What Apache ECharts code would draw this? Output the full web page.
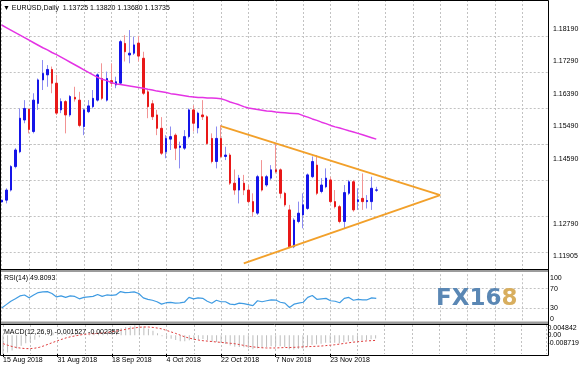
<!DOCTYPE html>
<html><head><meta charset="utf-8">
<script src="https://cdn.jsdelivr.net/npm/echarts/dist/echarts.min.js"></script>
<style>html,body{margin:0;padding:0;background:#fff}#c{width:582px;height:371px}</style>
</head><body><div id="c"></div>
<script>
// ---- data ----
const tickBars = [0, 12, 24, 36, 48, 60, 72];
const tickLabels = ['15 Aug 2018', '31 Aug 2018', '18 Sep 2018', '4 Oct 2018', '22 Oct 2018', '7 Nov 2018', '23 Nov 2018'];

const open = [1.1340,1.1345,1.1373,1.1438,1.1479,1.1567,1.1597,1.1535,1.1613,1.1678,
1.1692,1.1707,1.1669,1.1595,1.1618,1.1581,1.1630,1.1622,1.1549,1.1590,
1.1604,1.1622,1.1682,1.1622,1.1676,1.1664,1.1669,1.1779,1.1747,1.1752,
1.1780,1.1738,1.1645,1.1612,1.1581,1.1544,1.1479,1.1514,1.1525,1.1491,
1.1489,1.1521,1.1595,1.1545,1.1581,1.1576,1.1516,1.1452,1.1516,1.1466,
1.1470,1.1392,1.1373,1.1392,1.1373,1.1341,1.1309,1.1410,1.1387,1.1406,
1.1429,1.1429,1.1364,1.1318,1.1216,1.1286,1.1304,1.1322,1.1410,1.1442,
1.1369,1.1382,1.1401,1.1341,1.1327,1.1286,1.1364,1.1396,1.1341,1.1350,
1.1341,1.1341,1.13725];
const high = [1.1350,1.1378,1.1442,1.1489,1.1599,1.1622,1.1599,1.1641,1.1682,1.1733,
1.1719,1.1715,1.1692,1.1627,1.1622,1.1636,1.1659,1.1645,1.1599,1.1622,
1.1650,1.1696,1.1724,1.1701,1.1724,1.1687,1.1789,1.1802,1.1816,1.1798,
1.1800,1.1756,1.1650,1.1622,1.1595,1.1575,1.1525,1.1549,1.1530,1.1507,
1.1539,1.1599,1.1608,1.1590,1.1622,1.1580,1.1530,1.1549,1.1553,1.1493,
1.1475,1.1430,1.1415,1.1415,1.1387,1.1364,1.1415,1.1456,1.1415,1.1442,
1.1502,1.1433,1.1368,1.1332,1.1295,1.1341,1.1364,1.1419,1.1466,1.1470,
1.1406,1.1433,1.1410,1.1373,1.1332,1.1387,1.1401,1.1401,1.1378,1.1419,
1.1359,1.1410,1.13820];
const low = [1.1299,1.1336,1.1369,1.1433,1.1475,1.1558,1.1530,1.1530,1.1595,1.1650,
1.1659,1.1641,1.1581,1.1586,1.1530,1.1576,1.1618,1.1547,1.1525,1.1586,
1.1599,1.1618,1.1622,1.1618,1.1659,1.1655,1.1664,1.1729,1.1724,1.1747,
1.1729,1.1636,1.1572,1.1567,1.1525,1.1470,1.1461,1.1484,1.1456,1.1433,
1.1484,1.1516,1.1535,1.1530,1.1567,1.1498,1.1447,1.1433,1.1461,1.1456,
1.1387,1.1360,1.1336,1.1359,1.1336,1.1299,1.1304,1.1369,1.1382,1.1401,
1.1419,1.1350,1.1327,1.1212,1.1212,1.1281,1.1267,1.1318,1.1406,1.1359,
1.1364,1.1378,1.1336,1.1322,1.1281,1.1267,1.1359,1.1313,1.1318,1.1318,
1.1322,1.1318,1.13680];
const close = [1.1345,1.1373,1.1438,1.1484,1.1572,1.1599,1.1541,1.1622,1.1678,1.1696,
1.1707,1.1669,1.1586,1.1618,1.1581,1.1632,1.1625,1.1552,1.1595,1.1606,
1.1627,1.1692,1.1627,1.1682,1.1669,1.1673,1.1784,1.1756,1.1752,1.1775,
1.1744,1.1641,1.1604,1.1576,1.1544,1.1475,1.1516,1.1521,1.1489,1.1495,
1.1521,1.1595,1.1558,1.1586,1.1576,1.1502,1.1452,1.1516,1.1466,1.1470,
1.1392,1.1373,1.1406,1.1373,1.1341,1.1313,1.1410,1.1373,1.1410,1.1429,
1.1424,1.1364,1.1332,1.1216,1.1290,1.1309,1.1332,1.1415,1.1452,1.1364,
1.1387,1.1406,1.1341,1.1327,1.1286,1.1366,1.1396,1.1318,1.1346,1.1341,
1.1344,1.1378,1.13735];
const ma = [1.1830,1.1823,1.1816,1.1809,1.1802,1.1795,1.1788,1.1781,1.1774,1.1767,
1.1761,1.1754,1.1748,1.1741,1.1734,1.1727,1.1720,1.1713,1.1706,1.1699,
1.1692,1.1685,1.1680,1.1676,1.1671,1.1667,1.1665,1.1663,1.1661,1.1659,
1.1657,1.1655,1.1652,1.1650,1.1647,1.1645,1.1643,1.1640,1.1638,1.1636,
1.1634,1.1632,1.1631,1.1629,1.1629,1.1628,1.1628,1.1627,1.1626,1.1622,
1.1617,1.1613,1.1609,1.1604,1.1600,1.1598,1.1596,1.1594,1.1592,1.1591,
1.1589,1.1588,1.1587,1.1586,1.1585,1.1584,1.1579,1.1575,1.1570,1.1566,
1.1561,1.1557,1.1552,1.1548,1.1545,1.1541,1.1537,1.1534,1.1530,1.1526,
1.1522,1.1518,1.1514];
const rsi = [30,37,44,49,55,57,51,57,62,63.5,
64,60,53,55,52,55,54,49,52,53,
54,58,54,57,56,57,64,62,62.5,63.5,
60,51,48,46,43,38,41,41.5,40,40.5,
42,52,49,51,50,44,40,46,43,43,
38,37,40,39,37,35,45,43,45,47,
46.5,42,40,31,38,40,42,52,56,48,
49,50,45,44,41,50,52,46,48,47,
47,51,49.81];
const macd = [-0.0087,-0.0080,-0.0071,-0.0061,-0.0049,-0.0037,-0.0030,-0.0020,-0.0009,0.0001,
0.0009,0.0012,0.0010,0.0010,0.0008,0.0009,0.0009,0.0005,0.0004,0.0005,
0.0007,0.0013,0.0015,0.0019,0.0021,0.0022,0.0033,0.0039,0.0043,0.0047,
0.0048,0.0041,0.0031,0.0021,0.0010,-0.0004,-0.0011,-0.0016,-0.0022,-0.0027,
-0.0028,-0.0023,-0.0022,-0.0019,-0.0017,-0.0023,-0.0030,-0.0031,-0.0036,-0.0040,
-0.0047,-0.0053,-0.0054,-0.0056,-0.0060,-0.0065,-0.0060,-0.0058,-0.0055,-0.0051,
-0.0049,-0.0051,-0.0054,-0.0065,-0.0066,-0.0064,-0.0061,-0.0053,-0.0044,-0.0042,
-0.0039,-0.0035,-0.0035,-0.0035,-0.0037,-0.0032,-0.0027,-0.0028,-0.0026,-0.0024,
-0.0022,-0.0018,-0.001527];
const signal = [-0.0039,-0.0046,-0.0052,-0.0057,-0.0060,-0.0062,-0.0062,-0.0060,-0.0056,-0.0049,
-0.0041,-0.0033,-0.0025,-0.0018,-0.0011,-0.0006,-0.0002,0.0002,0.0005,0.0007,
0.0008,0.0009,0.0011,0.0014,0.0017,0.0020,0.0024,0.0028,0.0032,0.0035,
0.0038,0.0039,0.0039,0.0037,0.0034,0.0030,0.0023,0.0016,0.0009,0.0001,
-0.0007,-0.0013,-0.0018,-0.0022,-0.0025,-0.0027,-0.0029,-0.0031,-0.0033,-0.0035,
-0.0037,-0.0039,-0.0043,-0.0047,-0.0051,-0.0054,-0.0056,-0.0058,-0.0059,-0.0059,
-0.0059,-0.0058,-0.0057,-0.0057,-0.0056,-0.0055,-0.0054,-0.0053,-0.0052,-0.0051,
-0.0050,-0.0048,-0.0046,-0.0044,-0.0041,-0.0038,-0.0035,-0.0032,-0.0030,-0.0028,
-0.0026,-0.0025,-0.002352];

const priceTicks = [1.18190, 1.17290, 1.16390, 1.15490, 1.14590, 1.12790, 1.11890];
const priceTickLabels = ['1.18190', '1.17290', '1.16390', '1.15490', '1.14590', '1.12790', '1.11905'];
const gridPrices = [1.18190, 1.17290, 1.16390, 1.15490, 1.14590, 1.13690, 1.12790, 1.11890];
const lastPrice = 1.13735;
const rsiTicks = [0, 30, 70, 100];
const rsiLevels = [30, 70];
const macdTicks = [-0.008719, 0, 0.004842];
const macdTickLabels = ['-0.008719', '0.00', '0.004842'];
const triUpper = [[48, 1.1550], [96, 1.1359]];
const triLower = [[53, 1.1170], [96, 1.1359]];
const headerText = '\u25BC EURUSD,Daily  1.13725 1.13820 1.13680 1.13735';
const rsiText = 'RSI(14) 49.8093';
const macdText = 'MACD(12,26,9) -0.001527 -0.002352';

// ---- chart ----
const FONT = 'Liberation Sans, Arial, sans-serif';
const X_MAX = 119.6;
const idx = open.map((_, i) => i);
const candleData = idx.map(i => [i, open[i], close[i], low[i], high[i]]);
const bodyData = idx.map(i => [i, open[i], close[i], Math.min(open[i], close[i]), Math.max(open[i], close[i])]);
const gridLine = { color: '#c2c2c2', type: [2, 2], width: 1 };

function pick(v, ticks, labels) {
  let best = 0, d = Infinity;
  ticks.forEach((t, k) => { const e = Math.abs(t - v); if (e < d) { d = e; best = k; } });
  return labels[best];
}

function xBase(gi) {
  return {
    type: 'value', gridIndex: gi, min: 0, max: X_MAX, interval: 6,
    axisLine: { show: false }, axisTick: { show: false }, axisLabel: { show: false },
    splitLine: { show: true, lineStyle: gridLine }
  };
}

const chart = echarts.init(document.getElementById('c'), null, { renderer: 'canvas' });
chart.setOption({
  animation: false,
  backgroundColor: '#fff',
  textStyle: { fontFamily: FONT },
  grid: [
    { left: 1.7, right: 34, top: 0, height: 269 },
    { left: 1.7, right: 34, top: 274.2, height: 48.3 },
    { left: 1.7, right: 34, top: 325, height: 29 }
  ],
  xAxis: [
    xBase(0), xBase(1), xBase(2),
    {
      type: 'value', gridIndex: 2, min: 0, max: X_MAX, position: 'bottom',
      axisLine: { show: false }, splitLine: { show: false },
      axisTick: { show: true, customValues: tickBars, length: 3, lineStyle: { color: '#000' } },
      axisLabel: {
        show: true, customValues: tickBars, align: 'left', margin: 3,
        fontSize: 7, color: '#000', fontFamily: FONT,
        formatter: v => { const k = tickBars.indexOf(Math.round(v)); return k >= 0 ? tickLabels[k] : ''; }
      }
    }
  ],
  yAxis: [
    {
      type: 'value', gridIndex: 0, position: 'right',
      min: 1.115439, max: 1.189931,
      axisLine: { show: false }, axisTick: { show: false }, splitLine: { show: false },
      axisLabel: {
        customValues: priceTicks, margin: 5, fontSize: 7, color: '#000', fontFamily: FONT,
        formatter: v => pick(v, priceTicks, priceTickLabels)
      }
    },
    {
      type: 'value', gridIndex: 1, position: 'right', min: 0, max: 100,
      axisLine: { show: false }, axisTick: { show: false }, splitLine: { show: false },
      axisLabel: {
        customValues: rsiTicks, margin: 2, fontSize: 7, color: '#000', fontFamily: FONT,
        verticalAlignMaxLabel: 'top', verticalAlignMinLabel: 'bottom',
        formatter: v => String(Math.round(v))
      }
    },
    {
      type: 'value', gridIndex: 2, position: 'right', min: -0.008719, max: 0.004842,
      axisLine: { show: false }, axisTick: { show: false }, splitLine: { show: false },
      axisLabel: {
        customValues: macdTicks, margin: 1, fontSize: 7, color: '#000', fontFamily: FONT,
        lineHeight: 7,
        verticalAlignMaxLabel: 'top', verticalAlignMinLabel: 'bottom',
        formatter: v => { const s = pick(v, macdTicks, macdTickLabels); return s === '-0.008719' ? s + '\n ' : s; }
      }
    }
  ],
  series: [
    {
      type: 'candlestick', xAxisIndex: 0, yAxisIndex: 0, z: 2,
      dimensions: ['i', 'open', 'close', 'lowest', 'highest'],
      encode: { x: 0, y: [1, 2, 3, 4] },
      data: candleData, barWidth: 1,
      itemStyle: { color: '#8c8cf2', color0: '#f29494', borderColor: '#8c8cf2', borderColor0: '#f29494', borderWidth: 1 },
      markLine: {
        silent: true, symbol: ['none', 'none'], label: { show: false },
        lineStyle: gridLine, z: 1,
        data: gridPrices.map(p => ({ yAxis: p }))
      }
    },
    {
      type: 'candlestick', xAxisIndex: 0, yAxisIndex: 0, z: 3,
      dimensions: ['i', 'open', 'close', 'lowest', 'highest'],
      encode: { x: 0, y: [1, 2, 3, 4] },
      data: bodyData, barWidth: 2,
      itemStyle: { color: '#1515e8', color0: '#e81818', borderColor: '#1515e8', borderColor0: '#e81818', borderWidth: 1 },
      markLine: {
        silent: true, symbol: ['none', 'none'],
        lineStyle: { opacity: 0 },
        label: {
          show: true, position: 'end', formatter: lastPrice.toFixed(5), distance: 1,
          color: '#fff', backgroundColor: '#000', padding: [1, 4, 1, 3],
          fontSize: 7, fontFamily: FONT
        },
        data: [{ yAxis: lastPrice }]
      }
    },
    {
      type: 'line', xAxisIndex: 0, yAxisIndex: 0, z: 4, symbol: 'none',
      data: idx.map(i => [i, ma[i]]),
      lineStyle: { color: '#e433e4', width: 1.5 }
    },
    {
      type: 'line', xAxisIndex: 0, yAxisIndex: 0, z: 5, symbol: 'none',
      data: triUpper, lineStyle: { color: '#f2a02a', width: 2 }
    },
    {
      type: 'line', xAxisIndex: 0, yAxisIndex: 0, z: 5, symbol: 'none',
      data: triLower, lineStyle: { color: '#f2a02a', width: 2 }
    },
    {
      type: 'line', xAxisIndex: 1, yAxisIndex: 1, z: 3, symbol: 'none',
      data: idx.map(i => [i, rsi[i]]),
      lineStyle: { color: '#3f9be2', width: 1.2 },
      markLine: {
        silent: true, symbol: ['none', 'none'], label: { show: false },
        lineStyle: gridLine, data: rsiLevels.map(v => ({ yAxis: v }))
      }
    },
    {
      type: 'bar', xAxisIndex: 2, yAxisIndex: 2, z: 2, barWidth: 1,
      data: idx.map(i => [i, macd[i]]),
      itemStyle: { color: '#bdbdbd' }
    },
    {
      type: 'line', xAxisIndex: 2, yAxisIndex: 2, z: 3, symbol: 'none',
      data: idx.map(i => [i, signal[i]]),
      lineStyle: { color: '#e03a3a', width: 1, type: [2, 2] }
    }
  ],
  graphic: [
    { type: 'rect', silent: true, z: 100, shape: { x: 0.5, y: 0.5, width: 548, height: 355 }, style: { fill: null, stroke: '#000', lineWidth: 1 } },
    { type: 'rect', silent: true, z: 100, shape: { x: 1, y: 269, width: 547, height: 3 }, style: { fill: '#9c9c9c' } },
    { type: 'line', silent: true, z: 101, shape: { x1: 0, y1: 269.5, x2: 549, y2: 269.5 }, style: { stroke: '#000', lineWidth: 1 } },
    { type: 'rect', silent: true, z: 100, shape: { x: 1, y: 321.5, width: 547, height: 3 }, style: { fill: '#9c9c9c' } },
    { type: 'line', silent: true, z: 101, shape: { x1: 0, y1: 324.5, x2: 549, y2: 324.5 }, style: { stroke: '#000', lineWidth: 1 } },
    { type: 'text', silent: true, z: 102, left: 3, top: 4.5, style: { text: headerText, fontSize: 7, fontFamily: FONT, fill: '#000' } },
    { type: 'text', silent: true, z: 102, left: 4, top: 275, style: { text: rsiText, fontSize: 7, fontFamily: FONT, fill: '#000' } },
    { type: 'text', silent: true, z: 102, left: 4, top: 328.5, style: { text: macdText, fontSize: 7, fontFamily: FONT, fill: '#000' } },
    {
      type: 'text', silent: true, z: 50, left: 436, top: 288,
      style: {
        text: '{a|FX16}{b|8}',
        rich: {
          a: { fill: '#5a87b4', fontSize: 23, fontWeight: 'bold', fontFamily: 'DejaVu Sans' },
          b: { fill: '#d8ae5e', fontSize: 23, fontWeight: 'bold', fontFamily: 'DejaVu Sans' }
        }
      }
    }
  ]
});
</script>
</body></html>
